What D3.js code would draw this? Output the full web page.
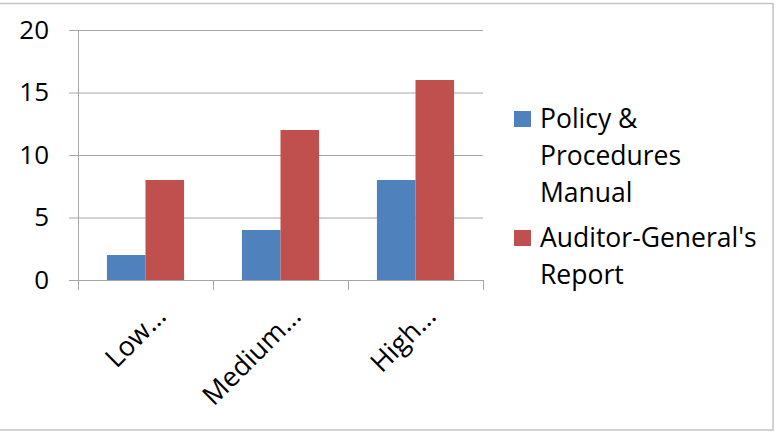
<!DOCTYPE html>
<html>
<head>
<meta charset="utf-8">
<script src="https://cdn.jsdelivr.net/npm/d3@7"></script>
<style>
  html, body { margin: 0; padding: 0; background: #fff; }
  svg { display: block; font-family: "Open Sans", Lato, sans-serif; }
</style>
</head>
<body>
<svg id="chart" width="781" height="434"></svg>
<script>
const categories = ["Low…", "Medium…", "High…"];
const seriesNames = ["Policy & Procedures Manual", "Auditor-General's Report"];
const legendLines = [["Policy &", "Procedures", "Manual"], ["Auditor-General's", "Report"]];
const policyValues = [2, 4, 8];
const auditorValues = [8, 12, 16];
const yTicks = [0, 5, 10, 15, 20];
const colors = ["#4F81BD", "#C0504D"];

const seriesValues = [policyValues, auditorValues];
const svg = d3.select("#chart");
const FONT = "'Open Sans', Lato, sans-serif";

// outer border
svg.append("rect").attr("x", -1).attr("y", 3.5).attr("width", 774).attr("height", 426.5)
  .attr("fill", "none").attr("stroke", "#c4c4c4").attr("stroke-width", 1.5);

const plot = { left: 78, right: 483, top: 30, bottom: 280 };

const x = d3.scaleBand().domain(categories).range([plot.left, plot.right]).paddingInner(0).paddingOuter(0);
const xs = d3.scaleBand().domain(seriesNames).range([0, x.bandwidth()]).paddingInner(0).paddingOuter(0.75);
const y = d3.scaleLinear().domain([0, 20]).range([plot.bottom, plot.top]);

// gridlines + y ticks
const yAxis = d3.axisLeft(y).tickValues(yTicks).tickSize(9).tickPadding(20).tickFormat(d3.format("d"));
const gy = svg.append("g").attr("transform", `translate(${plot.left},0)`).call(yAxis);
gy.select(".domain").attr("stroke", "#a6a6a6").attr("d", `M0.5,${plot.top}V${plot.bottom + 10}`);
gy.selectAll(".tick line").attr("stroke", "#a6a6a6").attr("x1", -9).attr("x2", plot.right - plot.left);
gy.selectAll(".tick text").attr("font-size", 26).attr("fill", "#000").attr("font-family", FONT);

// bars
const groups = svg.append("g").selectAll("g").data(categories).join("g")
  .attr("transform", d => `translate(${x(d)},0)`);
groups.selectAll("rect").data((d, i) => seriesNames.map((s, j) => ({ s, j, v: seriesValues[j][i] })))
  .join("rect")
  .attr("x", d => xs(d.s))
  .attr("width", xs.bandwidth())
  .attr("y", d => y(d.v))
  .attr("height", d => y(0) - y(d.v))
  .attr("fill", d => colors[d.j]);

// x axis
const xAxisLine = svg.append("g");
xAxisLine.append("line").attr("x1", plot.left).attr("x2", plot.right).attr("y1", plot.bottom + 0.5).attr("y2", plot.bottom + 0.5).attr("stroke", "#a6a6a6");
const boundaries = categories.map(c => x(c)).concat([plot.right]);
xAxisLine.selectAll("line.tk").data(boundaries).join("line").attr("class", "tk")
  .attr("x1", d => Math.round(d) + 0.5).attr("x2", d => Math.round(d) + 0.5)
  .attr("y1", plot.bottom).attr("y2", plot.bottom + 10).attr("stroke", "#a6a6a6");

svg.append("g").selectAll("text").data(categories).join("text")
  .attr("transform", d => `translate(${x(d) + x.bandwidth() / 2 + 22},${plot.bottom + 38}) rotate(-45)`)
  .attr("text-anchor", "end")
  .attr("font-size", 27)
  .attr("fill", "#000")
  .text(d => d);

// legend
const legendTop = [128, 247];
const lg = svg.append("g");
legendLines.forEach((lines, i) => {
  lg.append("rect").attr("x", 514).attr("y", legendTop[i] - 17).attr("width", 17).attr("height", 16).attr("fill", colors[i]);
  lines.forEach((t, k) => {
    lg.append("text").attr("x", 540).attr("y", legendTop[i] + k * 37)
      .attr("font-size", 26.5).attr("fill", "#000").text(t);
  });
});
</script>
</body>
</html>
